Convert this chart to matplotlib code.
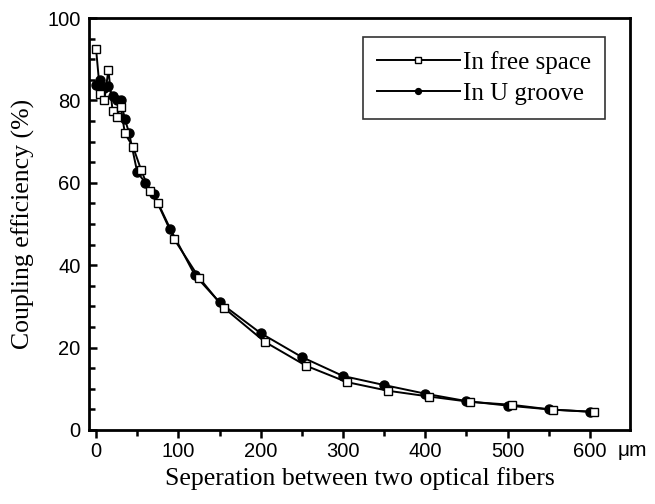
import numpy as np
import matplotlib.pyplot as plt
from matplotlib.ticker import MultipleLocator

# separation (um) and coupling efficiency (%)
x_free = [0, 5, 10, 15, 20, 25, 30, 35, 45, 55, 65, 75, 95, 125, 155, 205, 255, 305, 355, 405, 455, 505, 555, 605]
y_free = [92.5, 81.5, 80.0, 87.5, 77.5, 76.0, 78.5, 72.0, 68.7, 63.0, 58.0, 55.0, 46.3, 37.0, 29.7, 21.4, 15.6, 11.6, 9.5, 8.1, 6.8, 6.1, 4.9, 4.4]

x_groove = [0, 5, 10, 15, 20, 25, 30, 35, 40, 50, 60, 70, 90, 120, 150, 200, 250, 300, 350, 400, 450, 500, 550, 600]
y_groove = [83.7, 85.0, 83.0, 83.5, 81.0, 80.0, 80.0, 75.5, 72.2, 62.6, 60.0, 57.3, 48.9, 37.6, 31.0, 23.5, 17.7, 13.1, 10.9, 8.8, 7.0, 5.9, 5.0, 4.4]

fig = plt.figure(figsize=(6.55, 5.04), dpi=100)
ax = fig.add_axes([0.136, 0.147, 0.826, 0.817])

ax.plot(x_free, y_free, '-s', color='black', lw=1.4, ms=6, mfc='white', mec='black', mew=1.0,
        label='In free space', zorder=3)
ax.plot(x_groove, y_groove, '-o', color='black', lw=1.4, ms=6.5, mfc='black', mec='black',
        label='In U groove', zorder=2)

ax.set_xlim(-8.5, 649)
ax.set_ylim(0, 100)
ax.xaxis.set_major_locator(MultipleLocator(100))
ax.xaxis.set_minor_locator(MultipleLocator(50))
ax.yaxis.set_major_locator(MultipleLocator(20))
ax.yaxis.set_minor_locator(MultipleLocator(5))

for s in ax.spines.values():
    s.set_linewidth(2)
ax.tick_params(axis='x', which='major', direction='out', length=6, width=1.8, pad=3)
ax.tick_params(axis='x', which='minor', direction='out', length=4, width=1.8)
ax.tick_params(axis='y', which='major', direction='in', length=6, width=1.8, pad=6)
ax.tick_params(axis='y', which='minor', direction='in', length=4, width=1.8)
for lab in ax.get_xticklabels() + ax.get_yticklabels():
    lab.set_family('Liberation Sans')
    lab.set_fontsize(14.5)

ax.set_xlabel('Seperation between two optical fibers', family='Liberation Serif', fontsize=18.5, labelpad=4)
ax.set_ylabel('Coupling efficiency (%)', family='Liberation Serif', fontsize=18.5, labelpad=9)
ax.text(0.976, -0.028, '\u03bcm', transform=ax.transAxes, family='Liberation Sans', fontsize=15,
        ha='left', va='top')

leg = ax.legend(loc='upper right', bbox_to_anchor=(0.954, 0.954), borderaxespad=0,
                prop={'family': 'Liberation Serif', 'size': 18},
                frameon=True, fancybox=False, edgecolor='black', handlelength=3.3,
                markerscale=0.65, borderpad=0.55, labelspacing=0.35, handletextpad=0.15)
leg.get_frame().set_linewidth(1.2)

plt.savefig('out.png', dpi=100)
